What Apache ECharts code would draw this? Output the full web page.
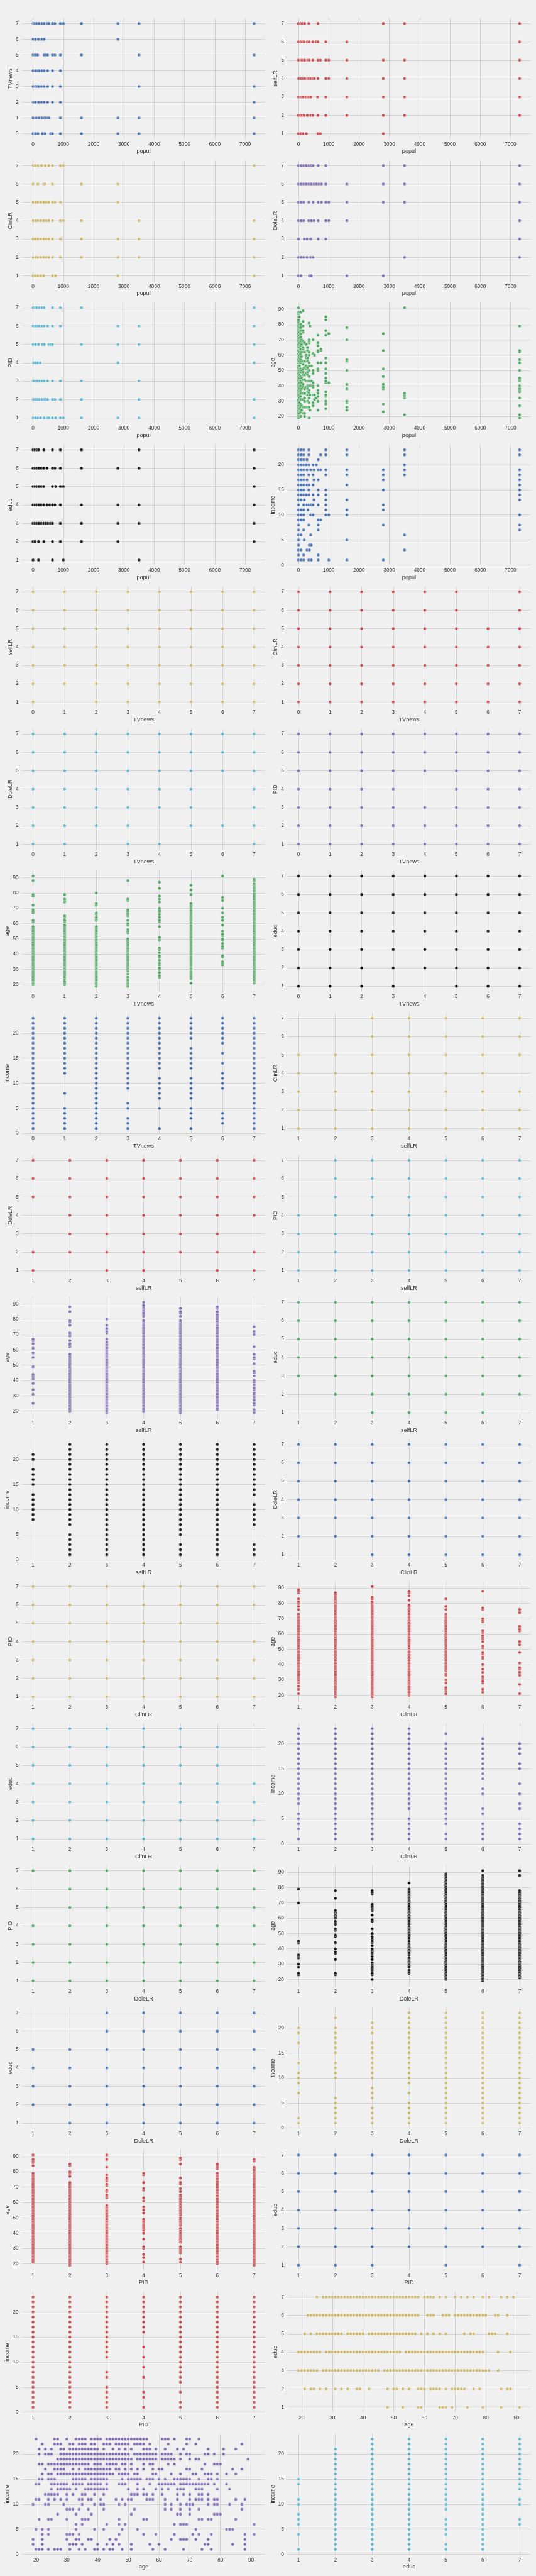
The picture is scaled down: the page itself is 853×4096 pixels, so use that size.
<!DOCTYPE html>
<html><head><meta charset="utf-8">
<script src="https://cdn.jsdelivr.net/npm/echarts@6/dist/echarts.min.js"></script>
<style>html,body{margin:0;padding:0;background:#f0f0f0;}#chart{width:853px;height:4096px;}</style>
</head><body><div id="chart"></div>
<script>
// ---------- tick labels ----------
const ticks_popul = [0,1000,2000,3000,4000,5000,6000,7000];
const ticks_TVnews = [0,1,2,3,4,5,6,7];
const ticks_scale7 = [1,2,3,4,5,6,7];
const ticks_age = [20,30,40,50,60,70,80,90];
const ticks_income = [0,5,10,15,20];

// ---------- observed levels ----------
const LV7 = [1,2,3,4,5,6,7];
const INC = [1,2,3,4,5,6,7,8,9,10,11,12,13,14,15,16,17,18,19,20,21,22,23];

// ---------- data: [groupValue, [other values]] ----------
const popul_TVnews = [
 [7,[0,20,70,120,200,290,370,480,530,640,720,900,1000,1600,2800,3500,7300]],
 [6,[0,80,170,290,370,2800]],
 [5,[0,60,100,150,370,430,480,640,720,900,1600,3500,7300]],
 [4,[0,80,160,210,290,370,480,640,900]],
 [3,[0,80,130,180,280,370,480,640,900,3500,7300]],
 [2,[0,30,80,180,280,370,480,640,900,7300]],
 [1,[0,110,200,290,370,420,480,530,900,1600,2800,3500,7300]],
 [0,[0,60,80,160,310,390,580,640,900,1600,2800,3500,7300]]];
const popul_selfLR = [
 [7,[0,70,120,200,340,640,2800,3500,7300]],
 [6,[0,70,120,180,290,350,470,580,640,900,1600,7300]],
 [5,[0,90,120,200,300,350,470,640,720,900,1000,1600,2800,3500,7300]],
 [4,[10,90,150,210,300,350,410,470,520,640,900,1000,1600,2800,3500,7300]],
 [3,[0,70,120,150,240,300,350,410,630,900,1600,2800,3500,7300]],
 [2,[0,70,120,180,290,400,470,640,900,1600,2800,3500,7300]],
 [1,[0,90,150,260,640,720,2800]]];
const popul_ClinLR = [
 [7,[0,70,160,280,400,520,640,900,1000,7300]],
 [6,[0,160,350,390,640,1600,2800]],
 [5,[0,90,160,260,350,440,520,640,720,900,2800]],
 [4,[0,90,160,260,350,440,520,640,900,1000,1600,3500,7300]],
 [3,[0,70,160,260,350,440,520,640,900,1600,2800,3500,7300]],
 [2,[0,90,160,260,350,440,520,640,900,1600,2800,3500,7300]],
 [1,[0,70,160,260,350,640,740,2800,7300]]];
const popul_DoleLR = [
 [7,[0,80,170,250,340,420,480,650,900,2800,3500,7300]],
 [6,[0,80,170,250,340,420,510,590,670,760,900,1600,2800,3500,7300]],
 [5,[0,80,170,340,480,650,760,900,1000,1600,2800,3500,7300]],
 [4,[0,80,170,340,420,510,650,900,1000,1600,7300]],
 [3,[0,190,280,400,650,900,7300]],
 [2,[0,80,170,280,400,480,3500,7300]],
 [1,[0,80,360,420,1600,2800]]];
const popul_PID = [
 [7,[0,80,120,210,290,370,640,900,1600,7300]],
 [6,[0,80,150,200,290,370,480,640,900,2800,3500,7300]],
 [5,[0,80,180,310,370,520,580,640,1600,2800,3500,7300]],
 [4,[20,80,150,230,2800,7300]],
 [3,[0,30,100,140,210,290,370,480,640,900,1600,3500]],
 [2,[0,30,100,150,210,290,370,420,480,640,720,900,1600,3500,7300]],
 [1,[0,80,160,250,370,480,530,640,750,900,1000,1600,2800,3500,7300]]];
const popul_age = [
 [0,[19,20,21,22,23,24,25,26,27,29,30,31,33,34,35,36,37,39,40,41,43,44,45,46,48,50,51,52,53,55,56,57,59,61,63,65,66,67,69,70,71,72,73,74,75,76,77,78,79,81,82,83,85,87,88,91]],
 [30,[20,22,25,27,29,32,34,36,38,40,42,45,47,50,53,56,58,60,62,65,68,71,73,75,78,80,85,88]],
 [70,[20,23,26,28,31,33,35,37,40,43,46,49,51,55,57,59,61,64,66,69,70,72,74,76,78,80,88]],
 [100,[24,27,31,35,38,42,45,50,56,59,62,67,70,76]],
 [150,[22,26,31,35,39,41,44,47,49,51,54,56,62,64,65,69,75,76,79,82,89]],
 [200,[20,22,26,30,32,35,38,44,47,52,56,62,68]],
 [250,[26,39,43,48,51,53,58,60,67]],
 [300,[26,30,34,36,38,40,43,47,49,51,52,56,58,63,65]],
 [350,[19,25,26,29,32,35,37,40,43,46,50,53,55,60,62,68,69,70,81]],
 [380,[24,34,79]],
 [430,[40,43,53]],
 [480,[27,29,34,39,40,42,48,50,61,70]],
 [530,[31,34,60]],
 [580,[32]],
 [640,[24,30,33,35,37,40,50,51,55,62,63,66,68,73]],
 [740,[55,63,64]],
 [900,[25,28,30,33,34,36,42,43,45,48,51,55,58,73,76,83,85]],
 [1000,[42,74]],
 [1600,[24,26,29,30,38,41,50,56,57,70,78]],
 [2800,[23,28,38,39,41,46,51,63,74]],
 [3500,[21,32,33,34,35,91]],
 [7300,[19,21,27,32,36,37,38,40,43,44,45,50,55,57,62,63,79]]];
const popul_educ = [
 [7,[0,60,120,180,360,640,900,1600,3500,7300]],
 [6,[0,60,120,190,270,350,460,640,720,900,1600,2800,3500,7300]],
 [5,[0,60,120,190,270,350,640,750,900,1000,7300]],
 [4,[0,60,120,190,270,350,460,550,640,720,900,1600,2800,3500,7300]],
 [3,[0,60,120,190,270,350,420,490,570,640,900,1600,2800,3500,7300]],
 [2,[0,60,180,360,640,900,1600,2800,7300]],
 [1,[0,180,640,1000,3500]]];
const popul_income = [
 [23,[0,80,170,340,900,1600,3500,7300]],
 [22,[0,80,170,340,730,900,1600,3500,7300]],
 [21,[0,80,170,280,650]],
 [20,[0,80,170,250,340,480,590,3500]],
 [19,[0,80,170,280,400,510,650,730,900,1600,2800,3500,7300]],
 [18,[0,80,170,340,480,900,1600,2800,3500,7300]],
 [17,[0,80,170,280,510,650,2800,7300]],
 [16,[0,80,170,280,340,480,1600,7300]],
 [15,[0,80,170,340,650,900,2800,7300]],
 [14,[0,80,170,250,340,480,650,900,7300]],
 [13,[0,80,190,510,900,1600,7300]],
 [12,[0,170,280,340,420,480,650,900,2800]],
 [11,[0,80,170,310,900,1600,2800]],
 [10,[0,80,170,400,480,900,1000,1600,7300]],
 [9,[0,80,170,650,730]],
 [8,[0,340,650,2800,7300]],
 [7,[0,170,650,7300]],
 [6,[0,80,400,3500]],
 [5,[0,190,1600]],
 [4,[0,360,420]],
 [3,[0,80,280,360,3500]],
 [2,[0,170,650]],
 [1,[0,80,170,340,420,650,1000,1600,2800]]];
const TVnews_selfLR = [[0,LV7],[1,[2,3,4,5,6,7]],[2,LV7],[3,LV7],[4,LV7],[5,LV7],[6,LV7],[7,LV7]];
const TVnews_ClinLR = [[0,LV7],[1,LV7],[2,LV7],[3,LV7],[4,LV7],[5,LV7],[6,[1,2,3,4,5]],[7,LV7]];
const TVnews_DoleLR = [[0,LV7],[1,LV7],[2,[2,3,4,5,6,7]],[3,LV7],[4,[1,3,4,5,6,7]],[5,[2,3,4,5,6,7]],[6,[2,5,6,7]],[7,LV7]];
const TVnews_PID = [[0,LV7],[1,LV7],[2,LV7],[3,LV7],[4,[1,2,3,5,6,7]],[5,LV7],[6,LV7],[7,LV7]];
const TVnews_age = [
 [0,[20,21,22,23,24,25,26,27,28,29,30,31,32,33,34,35,36,37,38,39,40,41,42,43,44,45,46,47,48,49,50,51,52,53,54,55,56,57,58,61,62,67,68,69,72,78,79,88,91]],
 [1,[20,21,22,24,25,26,27,28,29,30,31,32,33,34,35,36,37,38,39,40,41,42,43,44,45,46,47,48,49,50,51,52,53,54,55,56,57,58,59,61,62,64,65,74,75,76,79]],
 [2,[19,20,21,22,23,24,25,26,27,28,29,30,31,32,33,34,35,36,37,38,39,40,41,42,43,44,45,46,47,48,49,50,51,52,53,54,55,56,57,58,62,63,64,66,67,72,73,80]],
 [3,[19,20,21,22,23,25,27,29,30,31,32,33,34,35,36,37,38,39,40,41,42,43,44,45,46,47,48,49,50,54,55,56,59,60,62,65,66,67,68,69,75,76,88]],
 [4,[25,26,28,30,31,33,34,36,38,39,41,43,44,49,50,51,58,61,62,64,66,68,69,70,74,76,78,83,87]],
 [5,[21,24,25,26,27,28,29,30,31,32,33,34,35,36,37,38,39,40,41,42,43,44,45,46,47,48,49,50,51,52,53,54,55,56,57,58,59,60,61,62,63,64,65,66,67,68,69,70,71,72,73,79,82,85]],
 [6,[33,34,35,38,39,44,45,47,49,50,52,53,55,59,62,64,67,70,75,77,91]],
 [7,[21,22,23,24,25,26,27,28,29,30,31,32,33,34,35,36,37,38,39,40,41,42,43,44,45,46,47,48,49,50,51,52,53,54,55,56,57,58,59,60,61,62,63,64,65,66,67,68,69,70,71,72,73,74,75,76,77,78,79,80,81,82,83,84,85,86,88,89]]];
const TVnews_educ = [[0,LV7],[1,LV7],[2,LV7],[3,LV7],[4,[2,3,4,5,6,7]],[5,LV7],[6,LV7],[7,LV7]];
const TVnews_income = [
 [0,INC],
 [1,[1,2,3,4,5,8,12,13,14,15,16,17,18,19,20,21,22,23]],
 [2,INC],
 [3,[1,2,3,5,6,9,10,11,12,13,14,15,16,17,18,19,20,21,22,23]],
 [4,[1,5,7,8,9,10,11,13,14,15,16,17,18,19,20,21,22,23]],
 [5,[1,3,4,5,7,8,9,10,11,13,14,15,16,17,19,20,21,22,23]],
 [6,[2,3,4,9,10,11,12,14,16,18,19,20,21,22,23]],
 [7,INC]];
const selfLR_ClinLR = [[1,[1,2,3,4,5]],[2,[1,2,3,4,5]],[3,LV7],[4,LV7],[5,LV7],[6,LV7],[7,[1,2,3,5,6,7]]];
const selfLR_DoleLR = [[1,[1,2,5,6,7]],[2,[2,3,4,5,6,7]],[3,LV7],[4,LV7],[5,[2,3,4,5,6,7]],[6,LV7],[7,[1,2,4,5,6,7]]];
const selfLR_PID = [[1,[1,2,3,4]],[2,LV7],[3,LV7],[4,LV7],[5,LV7],[6,LV7],[7,LV7]];
const selfLR_age = [
 [1,[25,31,34,38,41,42,43,44,49,55,58,61,64,66,67]],
 [2,[20,21,22,23,24,25,26,27,28,29,30,31,32,33,34,35,36,37,38,39,40,41,42,43,44,45,46,47,48,49,50,51,52,53,54,55,56,57,62,63,64,66,69,70,71,76,78,79,85,88]],
 [3,[19,20,21,22,23,24,25,26,27,28,29,30,31,32,33,34,35,36,37,38,39,40,41,42,43,44,45,46,47,48,49,50,51,52,53,54,55,56,57,58,59,60,61,62,63,64,65,67,71,72,74,76,80]],
 [4,[20,21,22,23,24,25,26,27,28,29,30,31,32,33,34,35,36,37,38,39,40,41,42,43,44,45,46,47,48,49,50,51,52,53,54,55,56,57,58,59,60,61,62,63,64,65,66,67,68,69,70,71,72,73,74,75,76,77,78,79,82,83,84,85,86,87,88,89,91]],
 [5,[19,20,21,22,23,24,25,26,27,28,29,30,31,32,33,34,35,36,37,38,39,40,41,42,43,44,45,46,47,48,49,50,51,52,53,54,55,56,57,58,59,60,61,62,63,64,65,66,67,68,69,70,71,72,73,74,75,76,77,78,79,82,84,85,87]],
 [6,[21,22,23,24,25,26,27,28,29,30,31,32,33,34,35,36,37,38,39,40,41,42,43,44,45,46,47,48,49,50,51,52,53,54,55,56,57,58,59,60,61,62,63,64,65,66,67,68,69,70,71,72,73,74,75,76,77,78,79,80,81,82,83,85,87,88]],
 [7,[19,21,24,25,27,29,31,32,34,35,37,39,40,43,45,46,51,54,55,57,62,70,72,75]]];
const selfLR_educ = [[1,[3,4,5,6,7]],[2,[2,3,4,5,6,7]],[3,LV7],[4,LV7],[5,LV7],[6,LV7],[7,[2,3,4,5,6,7]]];
const selfLR_income = [
 [1,[8,9,10,11,12,13,15,16,17,18,20,21]],
 [2,[1,2,3,4,5,7,8,9,10,11,12,13,14,15,16,17,18,19,20,21,22,23]],
 [3,INC],
 [4,INC],
 [5,[1,2,3,5,6,7,8,9,10,11,12,13,14,15,16,17,18,19,20,21,22,23]],
 [6,INC],
 [7,[1,2,3,7,8,9,10,11,13,14,15,16,17,18,19,20,21,22,23]]];
const ClinLR_DoleLR = [[1,[2,3,4,5,6,7]],[2,[2,3,4,5,6,7]],[3,LV7],[4,LV7],[5,LV7],[6,LV7],[7,LV7]];
const ClinLR_PID = [[1,LV7],[2,LV7],[3,LV7],[4,LV7],[5,LV7],[6,LV7],[7,[1,2,3,4,6,7]]];
const ClinLR_age = [
 [1,[21,24,26,28,29,30,31,32,33,34,35,36,37,38,39,40,41,42,43,44,45,46,47,48,49,50,51,52,53,54,55,56,57,58,59,60,61,62,63,64,65,66,67,68,69,70,71,72,73,76,78,80,81,83,87,88,89]],
 [2,[19,20,21,22,23,24,25,26,27,28,29,30,31,32,33,34,35,36,37,38,39,40,41,42,43,44,45,46,47,48,49,50,51,52,53,54,55,56,57,58,59,60,61,62,63,64,65,66,67,68,69,70,71,72,73,74,75,76,77,78,79,80,81,82,83,84,85,86,87]],
 [3,[19,20,21,22,23,24,25,26,27,28,29,30,31,32,33,34,35,36,37,38,39,40,41,42,43,44,45,46,47,48,49,50,51,52,53,54,55,56,57,58,59,60,61,62,63,64,65,66,67,68,69,70,71,72,73,74,75,76,77,78,79,80,81,83,84,91]],
 [4,[20,21,22,23,24,25,26,27,28,29,30,31,32,33,34,35,36,37,38,39,40,41,42,43,44,45,46,47,48,49,50,51,52,53,54,55,56,57,58,59,60,61,62,63,64,65,66,67,68,69,70,71,72,73,74,75,76,77,78,79,82,85,87,88]],
 [5,[21,23,24,25,28,30,33,34,36,37,38,39,40,41,42,43,44,45,46,47,48,49,50,51,52,53,54,55,56,57,58,59,60,61,62,63,64,65,66,67,68,69,70,71,72,73,76,78,83]],
 [6,[22,24,28,29,31,32,35,37,40,44,45,47,48,51,52,55,57,58,59,61,62,68,69,70,76,77,88]],
 [7,[21,27,33,35,37,38,41,48,53,55,62,63,65,74,76]]];
const ClinLR_educ = [[1,LV7],[2,LV7],[3,LV7],[4,LV7],[5,LV7],[6,[1,2,3,4,5,6]],[7,[1,2,3,4]]];
const ClinLR_income = [
 [1,[1,3,4,5,6,8,9,10,11,12,13,14,15,16,17,18,19,20,21,22,23]],
 [2,INC],
 [3,INC],
 [4,[1,2,3,4,5,7,8,9,10,11,12,13,14,15,16,17,18,19,20,21,22,23]],
 [5,[1,2,4,5,6,7,8,9,10,11,12,13,14,15,16,17,18,19,20,22]],
 [6,[1,2,3,4,6,7,10,11,13,14,15,16,17,18,19,20,21]],
 [7,[1,2,3,4,7,8,10,12,15,16,18,19,20]]];
const DoleLR_PID = [[1,[1,2,3,4,7]],[2,LV7],[3,LV7],[4,LV7],[5,LV7],[6,LV7],[7,LV7]];
const DoleLR_age = [
 [1,[23,24,28,30,34,35,36,44,45,70,79]],
 [2,[23,24,33,37,38,40,44,48,49,52,53,56,57,58,60,61,62,63,64,65,73,78]],
 [3,[20,23,24,26,27,28,29,30,31,33,35,37,38,39,40,42,44,45,46,47,48,50,53,58,59,62,65,66,67,68,69,76,77,78]],
 [4,[24,25,26,28,29,30,31,32,33,34,36,37,38,39,40,41,42,43,44,45,46,47,48,49,50,51,52,53,54,55,56,57,58,59,60,61,62,63,64,65,66,67,68,69,70,71,72,73,74,75,76,77,78,79,83]],
 [5,[20,21,22,23,24,25,26,27,28,29,30,31,32,33,34,35,36,37,38,39,40,41,42,43,44,45,46,47,48,49,50,51,52,53,54,55,56,57,58,59,60,61,62,63,64,65,66,67,68,69,70,71,72,73,74,75,76,77,78,79,80,81,82,83,84,85,86,87,88,89]],
 [6,[19,20,21,22,23,24,25,26,27,28,29,30,31,32,33,34,35,36,37,38,39,40,41,42,43,44,45,46,47,48,49,50,51,52,53,54,55,56,57,58,59,60,61,62,63,64,65,66,67,68,69,70,71,72,73,74,75,76,77,78,79,80,81,82,83,84,85,86,87,88,91]],
 [7,[21,22,23,24,25,26,27,28,29,30,31,32,33,34,35,36,37,38,39,40,41,42,43,44,45,46,47,48,49,50,51,52,53,54,55,56,57,58,59,60,61,62,63,64,65,66,67,68,69,70,71,72,73,74,75,76,77,78,88,91]]];
const DoleLR_educ = [[1,[2,3,4,5]],[2,[1,2,3,4,5]],[3,LV7],[4,LV7],[5,LV7],[6,LV7],[7,LV7]];
const DoleLR_income = [
 [1,[1,2,7,9,10,11,13,17,19,20]],
 [2,[1,2,3,4,5,6,10,11,12,13,15,16,17,18,19,20,22]],
 [3,[1,2,3,4,6,7,8,10,11,12,13,14,15,16,17,19,20,21]],
 [4,[1,2,3,4,5,7,9,10,11,12,13,14,15,16,17,18,19,20,21,22,23]],
 [5,INC],[6,INC],[7,INC]];
const PID_age = [
 [1,[21,22,23,24,25,26,27,28,29,30,31,32,33,34,35,36,37,38,39,40,41,42,43,44,45,46,47,48,49,50,51,52,53,54,55,56,57,58,59,60,61,62,63,64,65,66,67,68,69,70,71,72,73,74,75,76,77,78,79,84,86,87,88,91]],
 [2,[19,20,21,22,23,24,25,26,27,28,29,30,31,32,33,34,35,36,37,38,39,40,41,42,43,44,45,46,47,48,49,50,51,52,53,54,55,56,57,58,59,60,61,62,63,64,65,66,67,68,69,70,71,72,73,77,79,80,84,85]],
 [3,[20,21,22,23,24,25,26,27,28,29,30,31,32,33,34,35,36,37,38,39,40,41,42,43,44,45,46,47,48,49,50,51,52,53,54,55,56,57,58,63,64,65,67,68,71,72,74,75,76,78,83,88,91]],
 [4,[21,24,26,30,31,36,40,42,43,44,45,46,47,48,49,53,55,57,61,63,68,69,73,78,79]],
 [5,[21,23,27,28,29,30,31,34,35,36,37,38,39,40,41,42,43,45,46,47,48,49,50,52,53,54,55,56,57,58,59,60,61,62,63,64,65,67,69,72,73,76,85,88,89]],
 [6,[20,21,22,23,24,25,26,27,28,29,30,31,32,33,34,35,36,37,38,39,40,41,42,43,44,45,46,47,48,49,50,51,52,53,54,55,56,57,58,59,60,61,62,63,64,65,66,67,68,69,70,71,72,73,74,75,76,77,78,79,82,83,84,85]],
 [7,[19,20,21,22,23,24,25,26,27,28,29,30,31,32,33,34,35,36,37,38,39,40,41,42,43,44,45,46,47,48,49,50,51,52,53,54,55,56,57,58,59,60,61,62,63,64,65,66,67,68,69,70,71,72,73,74,75,76,77,78,79,80,81,82,83,87,88]]];
const PID_educ = [[1,LV7],[2,LV7],[3,LV7],[4,[2,3,4,5,6,7]],[5,LV7],[6,[2,3,4,5,6,7]],[7,LV7]];
const PID_income = [
 [1,INC],[2,INC],
 [3,[1,2,3,4,5,7,8,11,12,13,14,15,16,17,18,19,20,21,22,23]],
 [4,[1,3,4,7,9,11,13,16,17,18,19,20,21,22,23]],
 [5,[1,2,4,6,7,8,9,10,11,12,13,14,15,16,17,18,19,20,21,22,23]],
 [6,INC],[7,INC]];
const age_educ = [
 [7,[25,27,28,29,30,31,32,33,34,35,36,37,38,39,40,41,42,43,44,45,46,47,48,49,50,51,52,53,54,55,56,57,58,60,61,62,63,65,67,70,72,74,76,79,81,85,87,89]],
 [6,[22,23,24,25,26,27,28,29,30,31,32,33,34,35,36,37,38,39,40,41,42,43,44,45,46,47,48,49,50,51,52,53,54,55,56,57,58,61,62,63,66,67,68,70,71,72,73,74,75,76,77,78,79,80,83,84,87]],
 [5,[21,23,25,26,27,28,29,30,31,32,33,35,36,37,38,39,40,42,43,44,45,46,47,48,49,50,51,52,53,54,55,56,57,59,61,63,65,67,73,75,76,81,82,83,87]],
 [4,[19,20,21,22,23,24,25,26,28,29,30,31,32,33,34,35,36,37,38,39,40,41,42,43,44,45,46,47,48,49,50,51,52,54,55,56,57,58,59,60,61,62,63,64,65,66,67,68,69,70,71,72,73,74,75,76,77,78,79,84,88]],
 [3,[19,20,21,22,23,24,25,27,28,29,30,31,32,33,34,35,36,37,38,39,40,41,42,43,44,45,47,48,49,50,51,52,53,54,55,56,57,58,59,60,61,62,63,64,65,66,67,68,69,70,71,72,73,74,75,76,77,78,79,80,81,84]],
 [2,[21,23,24,26,28,31,33,35,38,39,42,48,50,51,53,55,58,59,60,62,63,64,65,67,69,70,71,72,73,76,78,85,87,88]],
 [1,[48,53,58,59,65,66,67,69,74,79,85,91]]];
const age_income = [
 [23,[20,26,27,30,33,34,35,36,38,39,40,41,43,44,45,46,47,48,49,50,51,52,53,54,55,56,61,62,63,65,69,70,73]],
 [22,[22,26,27,28,31,32,34,35,36,38,39,42,43,44,46,47,48,49,50,52,53,54,55,57,63,69,72,87]],
 [21,[21,23,25,28,29,31,32,33,34,35,36,37,38,39,40,42,45,47,49,51,55,56,57,59,62,66,68,76,81,85]],
 [20,[21,23,24,25,28,29,30,31,32,33,34,35,36,37,38,39,40,41,42,43,44,45,46,47,48,49,50,52,53,54,55,56,57,58,59,61,62,63,64,67,69,70,75,76,78,81]],
 [19,[27,28,29,30,31,32,33,34,35,36,37,38,39,40,41,42,43,44,45,46,47,48,49,50,51,53,54,55,56,57,58,59,61,62,63,64,65,67,70,72,73,89]],
 [18,[21,22,24,25,26,27,28,29,30,31,32,33,34,35,36,37,39,40,41,43,44,45,46,48,49,51,55,57,58,63,65,75,78,79,80]],
 [17,[23,26,27,28,29,32,34,36,37,38,39,40,41,42,43,44,46,47,49,51,53,55,58,60,61,69,70,74,84,87]],
 [16,[22,24,25,27,28,29,30,31,32,33,34,35,36,37,38,39,40,41,42,43,44,45,47,48,49,50,52,53,58,59,64,67,71,72,75,76,77,79,82,85]],
 [15,[21,22,24,25,26,32,33,34,35,36,38,39,40,41,42,43,48,50,51,52,53,54,56,57,58,60,62,65,66,67,68,69,70,73,76,77,79]],
 [14,[20,21,25,26,27,28,29,30,32,33,34,35,37,38,39,40,41,43,47,48,49,53,57,60,61,62,63,64,65,67,68,69,70,71,72,73,74,75,76,78,82]],
 [13,[25,27,28,29,30,31,33,36,37,38,39,40,41,42,43,50,53,55,59,61,63,66,67,68,72,73,74,79,83]],
 [12,[23,24,25,26,27,30,32,35,36,39,42,51,52,53,55,56,58,61,66,68,70,73,74,76]],
 [11,[20,21,24,26,28,30,34,35,37,38,41,46,48,50,51,56,57,58,62,66,70,72,73,74,76,78,79,85,88]],
 [10,[19,23,24,29,35,39,41,42,47,49,62,64,67,69,70,71,76,78,79,83,87]],
 [9,[30,31,32,34,37,42,52,62,64,67,70,73,87]],
 [8,[27,33,38,51,66,67,70,78,79,80]],
 [7,[21,24,25,30,35,36,37,47,55,56,73,74,76,77,85]],
 [6,[33,35,43,47,49,65,67,68,69,91]],
 [5,[20,22,24,33,39,42,48,53,72,82,83,84]],
 [4,[22,24,30,31,32,34,47,55,59,65,71,73,77,88,91]],
 [3,[19,22,30,33,34,37,38,44,46,64,67,68,69,72,76,88]],
 [2,[19,22,31,32,33,35,40,43,45,47,51,57,60,75,76,84,88]],
 [1,[20,21,22,24,26,27,28,31,34,36,39,40,42,44,45,48,51,58,62,68,74,77,88]]];
const educ_income = [
 [1,[1,4,6,7,8,10,11,14,15]],
 [2,[1,2,3,4,5,6,7,8,9,10,11,12,13,14,15,16,17,18,19,20,21]],
 [3,INC],
 [4,INC],
 [5,[1,2,4,5,6,7,9,10,11,12,13,14,15,16,17,18,19,20,21,22,23]],
 [6,INC],
 [7,[6,7,10,11,13,14,15,16,17,18,19,20,21,22,23]]];

// ---------- plot order: x variable, y variable, grouping key, data, colour code ----------
const PLOTS = [
 ['popul','TVnews','y',popul_TVnews,'b'], ['popul','selfLR','y',popul_selfLR,'r'],
 ['popul','ClinLR','y',popul_ClinLR,'y'], ['popul','DoleLR','y',popul_DoleLR,'m'],
 ['popul','PID','y',popul_PID,'c'], ['popul','age','x',popul_age,'g'],
 ['popul','educ','y',popul_educ,'k'], ['popul','income','y',popul_income,'b'],
 ['TVnews','selfLR','x',TVnews_selfLR,'y'], ['TVnews','ClinLR','x',TVnews_ClinLR,'r'],
 ['TVnews','DoleLR','x',TVnews_DoleLR,'c'], ['TVnews','PID','x',TVnews_PID,'m'],
 ['TVnews','age','x',TVnews_age,'g'], ['TVnews','educ','x',TVnews_educ,'k'],
 ['TVnews','income','x',TVnews_income,'b'], ['selfLR','ClinLR','x',selfLR_ClinLR,'y'],
 ['selfLR','DoleLR','x',selfLR_DoleLR,'r'], ['selfLR','PID','x',selfLR_PID,'c'],
 ['selfLR','age','x',selfLR_age,'m'], ['selfLR','educ','x',selfLR_educ,'g'],
 ['selfLR','income','x',selfLR_income,'k'], ['ClinLR','DoleLR','x',ClinLR_DoleLR,'b'],
 ['ClinLR','PID','x',ClinLR_PID,'y'], ['ClinLR','age','x',ClinLR_age,'r'],
 ['ClinLR','educ','x',ClinLR_educ,'c'], ['ClinLR','income','x',ClinLR_income,'m'],
 ['DoleLR','PID','x',DoleLR_PID,'g'], ['DoleLR','age','x',DoleLR_age,'k'],
 ['DoleLR','educ','x',DoleLR_educ,'b'], ['DoleLR','income','x',DoleLR_income,'y'],
 ['PID','age','x',PID_age,'r'], ['PID','educ','x',PID_educ,'b'],
 ['PID','income','x',PID_income,'r'], ['age','educ','y',age_educ,'y'],
 ['age','income','y',age_income,'m'], ['educ','income','x',educ_income,'c']
];
const TICKS = {popul:ticks_popul, TVnews:ticks_TVnews, selfLR:ticks_scale7, ClinLR:ticks_scale7,
  DoleLR:ticks_scale7, PID:ticks_scale7, age:ticks_age, educ:ticks_scale7, income:ticks_income};
const COLORS = {b:'#4C72B0', g:'#55A868', r:'#C44E52', m:'#8172B2', y:'#CCB974', c:'#64B5CD', k:'#1A1A1A'};

// ---------- build ----------
const S = 0.79;
const FONT = '"Liberation Sans", Arial, sans-serif';
const TXT = '#3a3a3a';
function expand(groups, key) {
  const pts = [];
  groups.forEach(([k, vals]) => vals.forEach(v => pts.push(key === 'x' ? [k, v] : [v, k])));
  return pts;
}
const plotData = PLOTS.map(p => expand(p[3], p[2]));
const ext = {};
function upd(name, v) {
  if (!ext[name]) ext[name] = [v, v];
  ext[name][0] = Math.min(ext[name][0], v);
  ext[name][1] = Math.max(ext[name][1], v);
}
PLOTS.forEach((p, i) => plotData[i].forEach(([x, y]) => { upd(p[0], x); upd(p[1], y); }));
function lim(name) {
  const [lo, hi] = ext[name]; const m = (hi - lo) * 0.05;
  return [lo - m, hi + m];
}
const grids = [], xAxes = [], yAxes = [], series = [];
const colLeft = [44.3, 579], colW = 490, rowTop = 36.2, rowPitch = 286, rowH = 244;
PLOTS.forEach((p, i) => {
  const r = Math.floor(i / 2), c = i % 2;
  grids.push({left: colLeft[c] * S, top: (rowTop + r * rowPitch) * S, width: colW * S, height: rowH * S,
    containLabel: false, outerBoundsMode: 'none'});
  const [xmin, xmax] = lim(p[0]), [ymin, ymax] = lim(p[1]);
  const yt = TICKS[p[1]];
  const maxLen = Math.max(...yt.map(v => String(v).length));
  const common = (ticks) => ({
    type: 'value', axisLine: {show: false},
    axisTick: {show: false, customValues: ticks},
    axisLabel: {customValues: ticks, fontSize: 8.2, color: TXT, fontFamily: FONT, formatter: v => String(v), hideOverlap: false},
    splitLine: {show: true, lineStyle: {color: '#cbcbcb', width: 0.8}},
    nameLocation: 'middle',
    nameTextStyle: {fontSize: 9.1, color: TXT, fontFamily: FONT}
  });
  const xa = common(TICKS[p[0]]);
  Object.assign(xa, {gridIndex: i, min: xmin, max: xmax, name: p[0], nameGap: 15});
  xa.axisLabel.margin = 4;
  const ya = common(yt);
  Object.assign(ya, {gridIndex: i, min: ymin, max: ymax, name: p[1], nameGap: 9.6 + maxLen * 4.6});
  ya.axisLabel.margin = 5.5;
  xAxes.push(xa); yAxes.push(ya);
  series.push({type: 'scatter', xAxisIndex: i, yAxisIndex: i, data: plotData[i], symbolSize: 5,
    itemStyle: {color: COLORS[p[4]], borderColor: '#ffffff', borderWidth: 0.5, opacity: 1},
    silent: true, animation: false});
});
const chart = echarts.init(document.getElementById('chart'), null, {renderer: 'canvas'});
chart.setOption({backgroundColor: '#f0f0f0', animation: false, grid: grids, xAxis: xAxes, yAxis: yAxes, series: series});
</script></body></html>
